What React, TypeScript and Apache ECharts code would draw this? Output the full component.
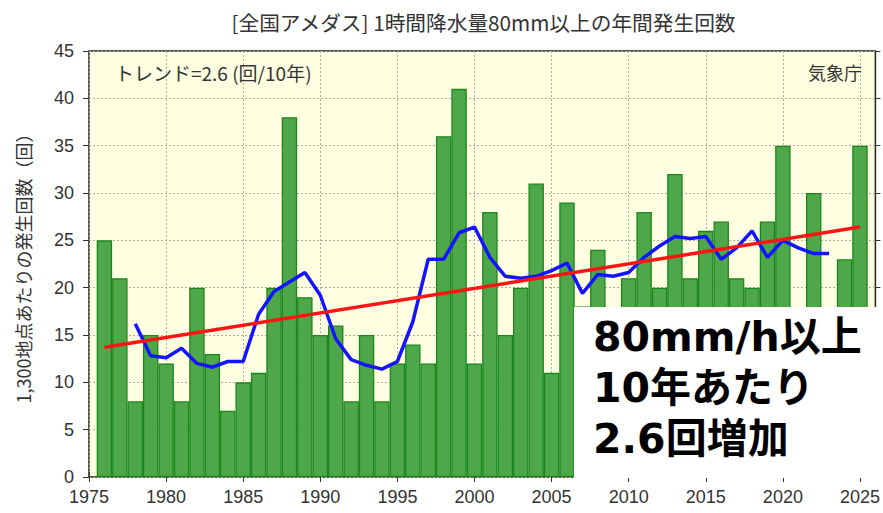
import React, { useEffect, useRef } from "react";
import * as echarts from "echarts";

// ---- data ----
const years: number[] = [
  1976, 1977, 1978, 1979, 1980, 1981, 1982, 1983, 1984, 1985,
  1986, 1987, 1988, 1989, 1990, 1991, 1992, 1993, 1994, 1995,
  1996, 1997, 1998, 1999, 2000, 2001, 2002, 2003, 2004, 2005,
  2006, 2007, 2008, 2009, 2010, 2011, 2012, 2013, 2014, 2015,
  2016, 2017, 2018, 2019, 2020, 2021, 2022, 2023, 2024, 2025,
];
const counts: number[] = [
  25, 21, 8, 15, 12, 8, 20, 13, 7, 10,
  11, 20, 38, 19, 15, 16, 8, 15, 8, 12,
  14, 12, 36, 41, 12, 28, 15, 20, 31, 11,
  29, 18, 24, 15, 21, 28, 20, 32, 21, 26,
  27, 21, 20, 27, 35, 13, 30, 17, 23, 35,
];
// 5-year running mean (blue line)
const maYears: number[] = [
  1978, 1979, 1980, 1981, 1982, 1983, 1984, 1985, 1986, 1987,
  1988, 1989, 1990, 1991, 1992, 1993, 1994, 1995, 1996, 1997,
  1998, 1999, 2000, 2001, 2002, 2003, 2004, 2005, 2006, 2007,
  2008, 2009, 2010, 2011, 2012, 2013, 2014, 2015, 2016, 2017,
  2018, 2019, 2020, 2021, 2022, 2023,
];
const maValues: number[] = [
  16.2, 12.8, 12.6, 13.6, 12.0, 11.6, 12.2, 12.2, 17.2, 19.6,
  20.6, 21.6, 19.2, 14.6, 12.4, 11.8, 11.4, 12.2, 16.4, 23.0,
  23.0, 25.8, 26.4, 23.2, 21.2, 21.0, 21.2, 21.8, 22.6, 19.4,
  21.4, 21.2, 21.6, 23.2, 24.4, 25.4, 25.2, 25.4, 23.0, 24.2,
  26.0, 23.2, 25.0, 24.2, 23.6, 23.6,
];
// linear trend (red line) end points
const trendYears: number[] = [1976, 2025];
const trendValues: number[] = [13.7, 26.4];
// tick labels
const xTickYears: number[] = [1975, 1980, 1985, 1990, 1995, 2000, 2005, 2010, 2015, 2020, 2025];

const titleText = "[全国アメダス] 1時間降水量80mm以上の年間発生回数";
const yAxisName = "1,300地点あたりの発生回数（回）";
const trendNote = "トレンド=2.6 (回/10年)";
const sourceNote = "気象庁";
const boxLines: string[] = ["80mm/h以上", "10年あたり", "2.6回増加"];

const LATIN = "'Liberation Sans', Arial, 'Noto Sans CJK JP', sans-serif";
const JP = "'Noto Sans CJK JP', 'Noto Sans', sans-serif";
const BOLD_FONT = "'DejaVu Sans', 'Noto Sans CJK JP', sans-serif";

export default function App() {
  const ref = useRef<HTMLDivElement>(null);

  useEffect(() => {
    if (!ref.current) return;
    const chart = echarts.init(ref.current, undefined, { renderer: "svg" });

    const gridLine = { show: true, lineStyle: { color: "#aeae9c", type: [2, 2] as any, width: 1 } };
    const tickStyle = { lineStyle: { color: "#333", width: 1 } };

    chart.setOption({
      animation: false,
      backgroundColor: "#ffffff",
      grid: {
        left: 89,
        right: 5,
        top: 51,
        bottom: 36,
        show: true,
        backgroundColor: "#ffffe2",
        borderColor: "#222",
        borderWidth: 1.5,
        containLabel: false,
      },
      xAxis: [
        {
          type: "value",
          position: "bottom",
          min: 1975,
          max: 2026,
          interval: 5,
          axisLine: { show: false },
          axisTick: { show: true, inside: false, length: 5, customValues: xTickYears, ...tickStyle },
          axisLabel: {
            customValues: xTickYears,
            fontSize: 18,
            color: "#333",
            margin: 11,
            fontFamily: LATIN,
            formatter: (v: number) => String(v),
          },
          splitLine: gridLine,
        },
        {
          type: "value",
          position: "top",
          min: 1975,
          max: 2026,
          interval: 5,
          axisLine: { show: false },
          axisTick: { show: true, inside: false, length: 5, customValues: xTickYears, ...tickStyle },
          axisLabel: { show: false },
          splitLine: { show: false },
        },
      ],
      yAxis: [
        {
          type: "value",
          position: "left",
          min: 0,
          max: 45,
          interval: 5,
          axisLine: { show: false },
          axisTick: { show: true, inside: false, length: 6, ...tickStyle },
          axisLabel: { fontSize: 18, color: "#333", margin: 15, fontFamily: LATIN },
          splitLine: gridLine,
          name: yAxisName,
          nameLocation: "middle",
          nameGap: 57,
          nameTextStyle: { fontSize: 18, color: "#333", fontFamily: JP },
        },
        {
          type: "value",
          position: "right",
          min: 0,
          max: 45,
          interval: 5,
          axisLine: { show: false },
          axisTick: { show: true, inside: false, length: 5, ...tickStyle },
          axisLabel: { show: false },
          splitLine: { show: false },
        },
      ],
      series: [
        {
          type: "bar",
          xAxisIndex: 0,
          yAxisIndex: 0,
          data: years.map((y, i) => [y, counts[i]]),
          barWidth: "100%",
          itemStyle: { color: "#4ea84a", borderColor: "#1a861a", borderWidth: 1.3 },
          z: 2,
        },
        {
          type: "line",
          xAxisIndex: 0,
          yAxisIndex: 0,
          data: maYears.map((y, i) => [y, maValues[i]]),
          symbol: "none",
          lineStyle: { color: "#1414ff", width: 3.5 },
          z: 3,
        },
        {
          type: "line",
          xAxisIndex: 0,
          yAxisIndex: 0,
          data: trendYears.map((y, i) => [y, trendValues[i]]),
          symbol: "none",
          lineStyle: { color: "#ff1414", width: 3.5 },
          z: 4,
        },
      ],
      graphic: [
        {
          type: "text",
          x: 483.5,
          y: 22,
          z: 100,
          style: {
            text: titleText,
            fontSize: 20.7,
            fill: "#333",
            fontFamily: JP,
            textAlign: "center",
            textVerticalAlign: "middle",
          },
        },
        {
          type: "text",
          x: 115,
          y: 72,
          z: 100,
          style: {
            text: trendNote,
            fontSize: 19,
            fill: "#333",
            fontFamily: JP,
            textAlign: "left",
            textVerticalAlign: "middle",
          },
        },
        {
          type: "text",
          x: 862,
          y: 72,
          z: 100,
          style: {
            text: sourceNote,
            fontSize: 18,
            fill: "#333",
            fontFamily: JP,
            textAlign: "right",
            textVerticalAlign: "middle",
          },
        },
        {
          type: "rect",
          z: 100,
          shape: { x: 574, y: 307, width: 309, height: 171 },
          style: { fill: "#ffffff" },
        },
        ...boxLines.map((t, i) => ({
          type: "text",
          x: 593,
          y: 337 + i * 51,
          z: 101,
          style: {
            text: t,
            fontSize: 41,
            fontWeight: "bold",
            fill: "#000",
            fontFamily: BOLD_FONT,
            textAlign: "left",
            textVerticalAlign: "middle",
          },
        })),
      ],
    });

    return () => chart.dispose();
  }, []);

  return (
    <div
      ref={ref}
      style={{ position: "fixed", left: 0, top: 0, width: 883, height: 513 }}
    />
  );
}
